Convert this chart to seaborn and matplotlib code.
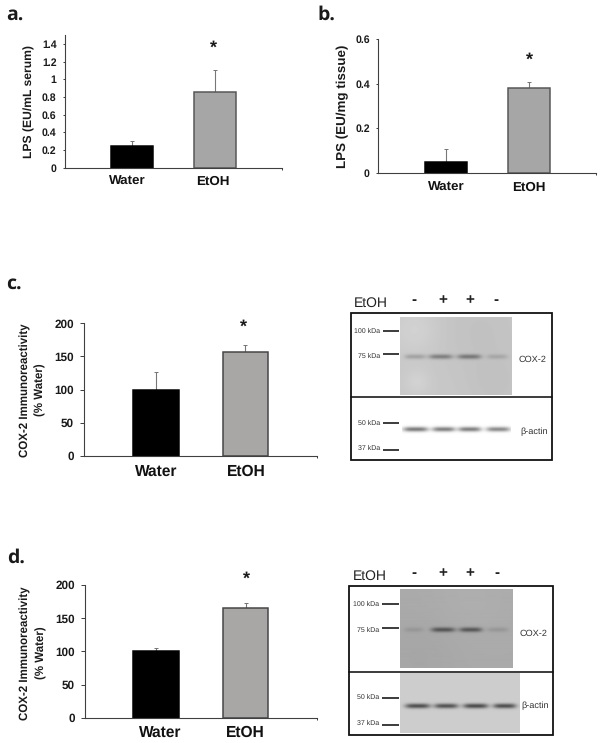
import numpy as np
import pandas as pd
import matplotlib
matplotlib.use("Agg")
import matplotlib.pyplot as plt
from matplotlib.patches import Rectangle
from matplotlib.transforms import ScaledTranslation
import seaborn as sns

# ---- data ----
categories = ["Water", "EtOH"]
lps_serum = [0.24, 0.86]
lps_serum_err = [0.06, 0.24]
lps_tissue = [0.05, 0.38]
lps_tissue_err = [0.058, 0.03]
cox_c = [100, 157]
cox_c_err = [26, 10]
cox_d = [100, 165]
cox_d_err = [5, 8]
ticks_a = [0, 0.2, 0.4, 0.6, 0.8, 1, 1.2, 1.4]
ticks_b = [0, 0.2, 0.4, 0.6]
ticks_cd = [0, 50, 100, 150, 200]
signs = ["-", "+", "+", "-"]
band_c_cox = [0.20, 0.36, 0.38, 0.14]
band_c_actin = [0.52, 0.50, 0.50, 0.46]
band_d_cox = [0.10, 0.50, 0.50, 0.12]
band_d_actin = [0.62, 0.60, 0.64, 0.62]
markers_top = ["100 kDa", "75 kDa"]
markers_bottom = ["50 kDa", "37 kDa"]

W, H, DPI = 604, 743, 100
sns.set_theme(style="ticks")
plt.rcParams["font.family"] = ["Liberation Sans", "DejaVu Sans"]
plt.rcParams["text.hinting"] = "no_hinting"
fig = plt.figure(figsize=(W / DPI, H / DPI), dpi=DPI, facecolor="white")
PT = 72 / DPI  # points per pixel


def fx(x):
    return x / W


def fy(y):
    return 1 - y / H


def ftext(x, y, s, **kw):
    kw.setdefault("ha", "left")
    kw.setdefault("va", "center")
    return fig.text(fx(x), fy(y), s, **kw)


def bar_panel(box, centers, barw, values, errs, yticks, ytop, ticklabels, tick_fs, cat_fs,
              ticklen, edge, gray, cat_x, cat_y):
    left, top, right, bottom = box
    ax = fig.add_axes([fx(left), fy(bottom), (right - left) / W, (bottom - top) / H])
    df = pd.DataFrame({"group": categories, "value": values})
    sns.barplot(data=df, x="group", y="value", hue="group", ax=ax, errorbar=None, legend=False,
                palette={"Water": "black", "EtOH": gray}, dodge=False,
                width=barw, saturation=1, linewidth=1.5 * PT)
    for patch, ec in zip(ax.patches, ["black", edge]):
        patch.set_edgecolor(ec)
    ax.errorbar([0, 1], values, yerr=[[0, 0], errs], fmt="none", ecolor="#777777",
                elinewidth=1.1 * PT, capsize=1.6 * PT, capthick=1 * PT, zorder=1)
    for patch in ax.patches:
        patch.set_zorder(2)
    spacing = centers[1] - centers[0]
    ax.set_xlim((left - centers[0]) / spacing, (right - centers[0]) / spacing)
    ax.set_ylim(0, ytop)
    ax.set_yticks(yticks)
    ax.set_yticklabels(ticklabels, fontsize=tick_fs, fontweight="bold", color="#1a1a1a")
    ax.set_xticks([0, 1])
    ax.set_xticklabels(categories, fontsize=cat_fs, fontweight="bold", color="#111111")
    ax.set_xticks([(right - centers[0]) / spacing - 0.002], minor=True)
    ax.tick_params(axis="y", length=ticklen * PT, width=1 * PT, color="#404040", pad=6 * PT)
    ax.tick_params(axis="x", which="major", length=0,
                   pad=(cat_y - bottom - cat_fs / PT * 0.36) * PT)
    ax.tick_params(axis="x", which="minor", length=2 * PT, width=1 * PT, color="#404040")
    ax.set_xlabel("")
    ax.set_ylabel("")
    ax.patch.set_alpha(0)
    sns.despine(ax=ax)
    for side in ("left", "bottom"):
        ax.spines[side].set_color("#404040")
        ax.spines[side].set_linewidth(1.1 * PT)
    for lab, c, target in zip(ax.get_xticklabels(), centers, cat_x):
        lab.set_transform(lab.get_transform() + ScaledTranslation((target - c) / DPI, 0, fig.dpi_scale_trans))
    return ax


bar_panel((64.5, 35, 282, 167.5), (131.7, 215.2), 0.5, lps_serum, lps_serum_err, ticks_a,
          (167.5 - 35) / (123.5 / 1.4), [str(t) for t in ticks_a], 7.6, 9.6, 2, "#555555", "#a6a6a6",
          (127, 213), 180)
bar_panel((377.7, 39.3, 596, 172.7), (445.8, 529.3), 0.5, lps_tissue, lps_tissue_err, ticks_b,
          0.6, [str(t) for t in ticks_b], 7.6, 9.6, 2, "#555555", "#a6a6a6",
          (446, 529), 186.7)
bar_panel((84, 323.3, 316.7, 455.7), (155.9, 245.3), 0.51, cox_c, cox_c_err, ticks_cd,
          200, [str(t) for t in ticks_cd], 8.5, 11.2, 4, "#444444", "#a9a6a6",
          (156.7, 246), 470)
bar_panel((85, 585, 316.7, 717.7), (155.9, 245.6), 0.51, cox_d, cox_d_err, ticks_cd,
          200, [str(t) for t in ticks_cd], 8.5, 11.2, 4, "#444444", "#a9a6a6",
          (160.7, 245), 730.7)

# y labels
ylab = dict(rotation=90, ha="center", va="center", fontweight="bold", color="#1a1a1a")
ftext(29.5, 101.7, "LPS (EU/mL serum)", fontsize=8.7, **ylab)
ftext(343, 106.7, "LPS (EU/mg tissue)", fontsize=9.6, **ylab)
ftext(25, 390.5, "COX-2 Immunoreactivity", fontsize=8.3, **ylab)
ftext(40.7, 390, "(% Water)", fontsize=8.3, **ylab)
ftext(25.5, 653, "COX-2 Immunoreactivity", fontsize=8.3, **ylab)
ftext(41, 653, "(% Water)", fontsize=8.3, **ylab)

# panel letters
letter = dict(family="Open Sans", fontweight="bold", fontsize=14, color="#1a1a1a", va="baseline")
ftext(6.5, 20, "a.", **letter)
ftext(317, 20, "b.", **letter)
ftext(6.5, 289, "c.", **letter)
ftext(7, 563, "d.", **letter)

# significance stars
star = dict(ha="center", va="center", fontweight="bold", fontsize=13, color="#1a1a1a")
for x, y in [(213, 48), (529, 60), (243, 327), (246, 579)]:
    ftext(x, y, "*", **star)

# ---- western blots: one pixel-space overlay ----
ov = fig.add_axes([0, 0, 1, 1], zorder=-1)
ov.set_xlim(0, W)
ov.set_ylim(H, 0)
ov.axis("off")


def blot(extent, bg, lanes, widths, band_y, intens, sigma=1.7, spots=()):
    x0, x1, y0, y1 = extent
    xs = np.arange(x0, x1, 0.5)
    ys = np.arange(y0, y1, 0.5)
    X, Y = np.meshgrid(xs, ys)
    img = np.full(X.shape, float(bg))
    for sx, sy, r, amp in spots:
        img += amp * np.exp(-(((X - sx) ** 2 + (Y - sy) ** 2) / (2 * r ** 2)))
    for c, w, d in zip(lanes, widths, intens):
        prof = np.exp(-(((X - c) / (w / 2)) ** 4)) * np.exp(-((Y - band_y) ** 2) / (2 * sigma ** 2))
        img -= prof * d * bg
    ov.imshow(img, extent=(x0, x1, y1, y0), cmap="gray", vmin=0, vmax=255,
              interpolation="bilinear", aspect="auto", zorder=1)


def frame(x0, x1, y0, y1, ymid):
    ov.add_patch(Rectangle((x0, y0), x1 - x0, y1 - y0, fill=False, ec="#111111", lw=1.8 * PT, zorder=4))
    ov.plot([x0, x1], [ymid, ymid], color="#111111", lw=1.6 * PT, zorder=4)


def marker(label, y, x0, x1, ytxt):
    ov.plot([x0, x1], [y, y], color="#111111", lw=1.6 * PT, solid_capstyle="butt", zorder=4)
    ftext(x0 - 2.5, ytxt, label, ha="right", fontsize=5, color="#333333")


def header(xt, yb, xs, ysign):
    ftext(xt, yb, "EtOH", fontsize=10, va="baseline", color="#222222")
    for x, s in zip(xs, signs):
        ftext(x, ysign, s, ha="center", fontsize=11, fontweight="bold", color="#222222")


# panel c
blot((400, 512, 317.3, 395), 200, (415, 440.5, 469, 497), (21, 24, 24, 21), 356.7, band_c_cox,
     spots=[(415, 330, 16, 10), (417, 382, 9, 10), (480, 330, 30, -6), (495, 385, 22, -6)])
blot((402, 511, 422, 436), 255, (415.5, 443.5, 469.5, 498), (25, 23, 23, 24), 429, band_c_actin)
frame(351, 552.3, 312.7, 460, 397.3)
marker(markers_top[0], 330.7, 383, 399, 331)
marker(markers_top[1], 354, 383, 399, 356.5)
marker(markers_bottom[0], 423, 383, 399, 423)
marker(markers_bottom[1], 450, 383, 399, 448.5)
header(354, 306.7, (414, 443, 469.5, 496), 300)
ftext(519, 360, "COX-2", fontsize=6.6, color="#333333")
ftext(520, 431.5, "β-actin", fontsize=6.6, color="#333333")

# panel d
blot((400, 512.7, 589.3, 667.7), 170, (413.5, 443, 470.5, 497.5), (19, 24, 23, 21), 629.5, band_d_cox,
     spots=[(470, 600, 30, 4), (420, 655, 30, -4)])
blot((400, 520, 673, 732.7), 205, (417.5, 446, 475.5, 504.5), (25, 24, 25, 23), 705.7, band_d_actin)
frame(349.3, 553, 586, 735, 671.7)
marker(markers_top[0], 604, 381.7, 399, 604.5)
marker(markers_top[1], 628.3, 381.7, 399, 630)
marker(markers_bottom[0], 698, 381.7, 399, 697.5)
marker(markers_bottom[1], 724.7, 381.7, 399, 723.5)
header(352.7, 580, (414, 443, 470, 497), 573.5)
ftext(520, 634, "COX-2", fontsize=6.6, color="#333333")
ftext(521, 705.7, "β-actin", fontsize=6.6, color="#333333")

fig.savefig("out.png", dpi=DPI, facecolor="white")
